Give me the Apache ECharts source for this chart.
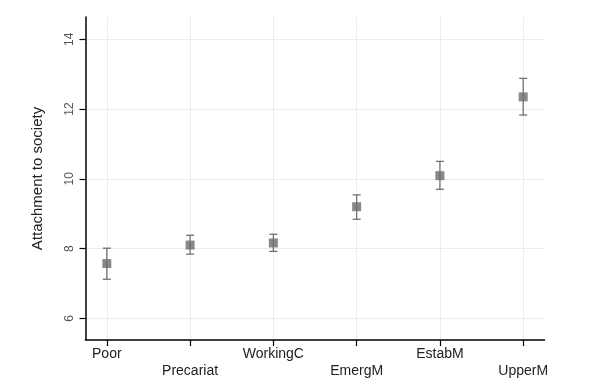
<!DOCTYPE html>
<html><head><meta charset="utf-8">
<script src="https://cdn.jsdelivr.net/npm/echarts@6/dist/echarts.min.js"></script>
<style>html,body{margin:0;padding:0;background:#fff}#c{width:595px;height:391px}</style>
</head><body><div id="c"></div>
<script>
const categories = ['Poor','Precariat','WorkingC','EmergM','EstabM','UpperM'];
const means = [7.57, 8.10, 8.16, 9.20, 10.09, 12.35];
const lower = [7.12, 7.84, 7.92, 8.84, 9.70, 11.83];
const upper = [8.01, 8.38, 8.41, 9.54, 10.50, 12.88];
const yTicks = [6, 8, 10, 12, 14];

const positions = categories.map((c, i) => i + 1);
const pointData = means.map((v, i) => [positions[i], v]);
const barData = means.map((v, i) => [positions[i], lower[i], upper[i]]);

const chart = echarts.init(document.getElementById('c'), null, {renderer: 'canvas'});
chart.setOption({
  animation: false,
  backgroundColor: '#fff',
  textStyle: {fontFamily: 'Liberation Sans, Arial, sans-serif'},
  grid: {left: 85.5, right: 50.5, top: 17, bottom: 51, containLabel: false},
  xAxis: {
    type: 'value', min: 0.744, max: 6.256,
    axisLine: {show: true, lineStyle: {color: '#000', width: 1.5}},
    axisTick: {show: true, length: 6, customValues: positions, lineStyle: {color: '#000', width: 1.2}},
    axisLabel: {
      customValues: positions, margin: 6, fontSize: 14, color: '#222', lineHeight: 17,
      formatter: v => { const i = Math.round(v) - 1; const n = categories[i] || ''; return i % 2 === 1 ? '\n' + n : n; }
    },
    splitLine: {show: true, lineStyle: {color: '#ececec', width: 1}}
  },
  yAxis: {
    type: 'value', min: 5.378, max: 14.64,
    name: 'Attachment to society', nameLocation: 'middle', nameGap: 40,
    nameTextStyle: {fontSize: 15, color: '#222'},
    axisLine: {show: true, lineStyle: {color: '#000', width: 1.5}},
    axisTick: {show: true, length: 6, customValues: yTicks, lineStyle: {color: '#000', width: 1.2}},
    axisLabel: {customValues: yTicks, rotate: 90, margin: 10, fontSize: 12, color: '#555'},
    splitLine: {show: true, lineStyle: {color: '#ececec', width: 1}}
  },
  series: [
    {
      type: 'custom',
      data: barData,
      z: 2,
      renderItem: function (params, api) {
        const x = api.value(0);
        const lo = api.coord([x, api.value(1)]);
        const hi = api.coord([x, api.value(2)]);
        const w = 4;
        const st = {stroke: '#727274', lineWidth: 1.3};
        return {type: 'group', children: [
          {type: 'line', shape: {x1: lo[0], y1: lo[1], x2: hi[0], y2: hi[1]}, style: st},
          {type: 'line', shape: {x1: lo[0]-w, y1: lo[1], x2: lo[0]+w, y2: lo[1]}, style: st},
          {type: 'line', shape: {x1: hi[0]-w, y1: hi[1], x2: hi[0]+w, y2: hi[1]}, style: st}
        ]};
      }
    },
    {
      type: 'scatter', data: pointData, symbol: 'rect', symbolSize: 9, z: 3,
      itemStyle: {color: '#6b6b6f'}
    }
  ]
});
</script></body></html>
